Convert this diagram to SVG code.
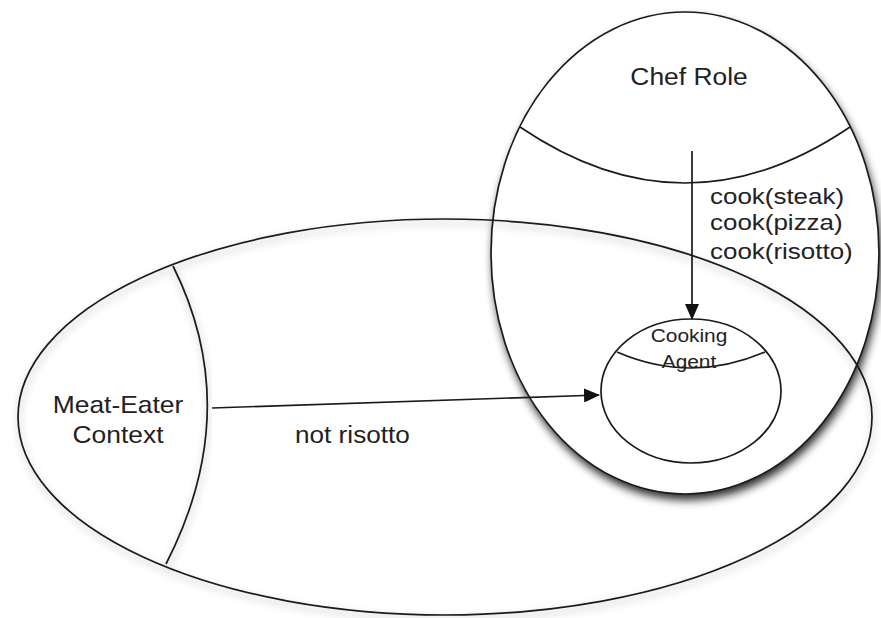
<svg xmlns="http://www.w3.org/2000/svg" width="881" height="618" viewBox="0 0 881 618">
  <defs>
    <filter id="chefShadow" x="-10%" y="-10%" width="125%" height="125%">
      <feGaussianBlur in="SourceAlpha" stdDeviation="5"/>
      <feOffset dx="2" dy="6" result="b"/>
      <feComponentTransfer><feFuncA type="linear" slope="0.85"/></feComponentTransfer>
      <feMerge><feMergeNode/><feMergeNode in="SourceGraphic"/></feMerge>
    </filter>
    <filter id="softShadow" x="-10%" y="-10%" width="120%" height="125%">
      <feGaussianBlur in="SourceAlpha" stdDeviation="4"/>
      <feOffset dx="1" dy="4" result="b"/>
      <feComponentTransfer><feFuncA type="linear" slope="0.35"/></feComponentTransfer>
      <feMerge><feMergeNode/><feMergeNode in="SourceGraphic"/></feMerge>
    </filter>
    <marker id="arrow" viewBox="0 0 16 14" refX="15" refY="7" markerWidth="16" markerHeight="14" markerUnits="userSpaceOnUse" orient="auto">
      <path d="M0,0 L16,7 L0,14 Z" fill="#111"/>
    </marker>
  </defs>
  <style>
    .line { fill: none; stroke: #1a1a1a; stroke-width: 1.7; }
    .lbl { font-family: "Liberation Sans", Arial, sans-serif; fill: #222; }
  </style>
  <rect width="881" height="618" fill="#ffffff"/>

  <!-- chef role shadow/back -->
  <ellipse cx="685" cy="253" rx="194" ry="241" fill="#ffffff" filter="url(#chefShadow)"/>

  <g id="meat-eater-context">
    <ellipse class="line" cx="445" cy="417" rx="427" ry="198" filter="url(#softShadow)"/>
    <path class="line" d="M173,266 Q245,410 166,564" filter="url(#softShadow)"/>
    <text class="lbl" font-size="24" text-anchor="middle" transform="translate(118,413) scale(1.1,1)">Meat-Eater</text>
    <text class="lbl" font-size="24" text-anchor="middle" transform="translate(118,443) scale(1.1,1)">Context</text>
  </g>

  <g id="chef-role">
    <ellipse class="line" cx="685" cy="253" rx="194" ry="241"/>
    <path class="line" d="M520,127 Q685,239 850,127"/>
    <text class="lbl" font-size="24" text-anchor="middle" transform="translate(689,85) scale(1.1,1)">Chef Role</text>
  </g>

  <g id="cooking-agent">
    <ellipse class="line" cx="691" cy="391" rx="90" ry="72"/>
    <path class="line" d="M617,352 Q691,384 765,352"/>
    <text class="lbl" font-size="19" text-anchor="middle" transform="translate(689,342) scale(1.1,1)">Cooking</text>
    <text class="lbl" font-size="19" text-anchor="middle" transform="translate(689,368) scale(1.1,1)">Agent</text>
  </g>

  <g id="connectors">
    <line class="line" x1="692" y1="151" x2="692" y2="319" marker-end="url(#arrow)"/>
    <line class="line" x1="212" y1="408" x2="599" y2="395" marker-end="url(#arrow)"/>
    <text class="lbl" font-size="22" transform="translate(710,204) scale(1.18,1)">cook(steak)</text>
    <text class="lbl" font-size="22" transform="translate(710,230) scale(1.18,1)">cook(pizza)</text>
    <text class="lbl" font-size="22" transform="translate(710,259) scale(1.18,1)">cook(risotto)</text>
    <text class="lbl" font-size="24" transform="translate(295,443) scale(1.09,1)">not risotto</text>
  </g>
</svg>
